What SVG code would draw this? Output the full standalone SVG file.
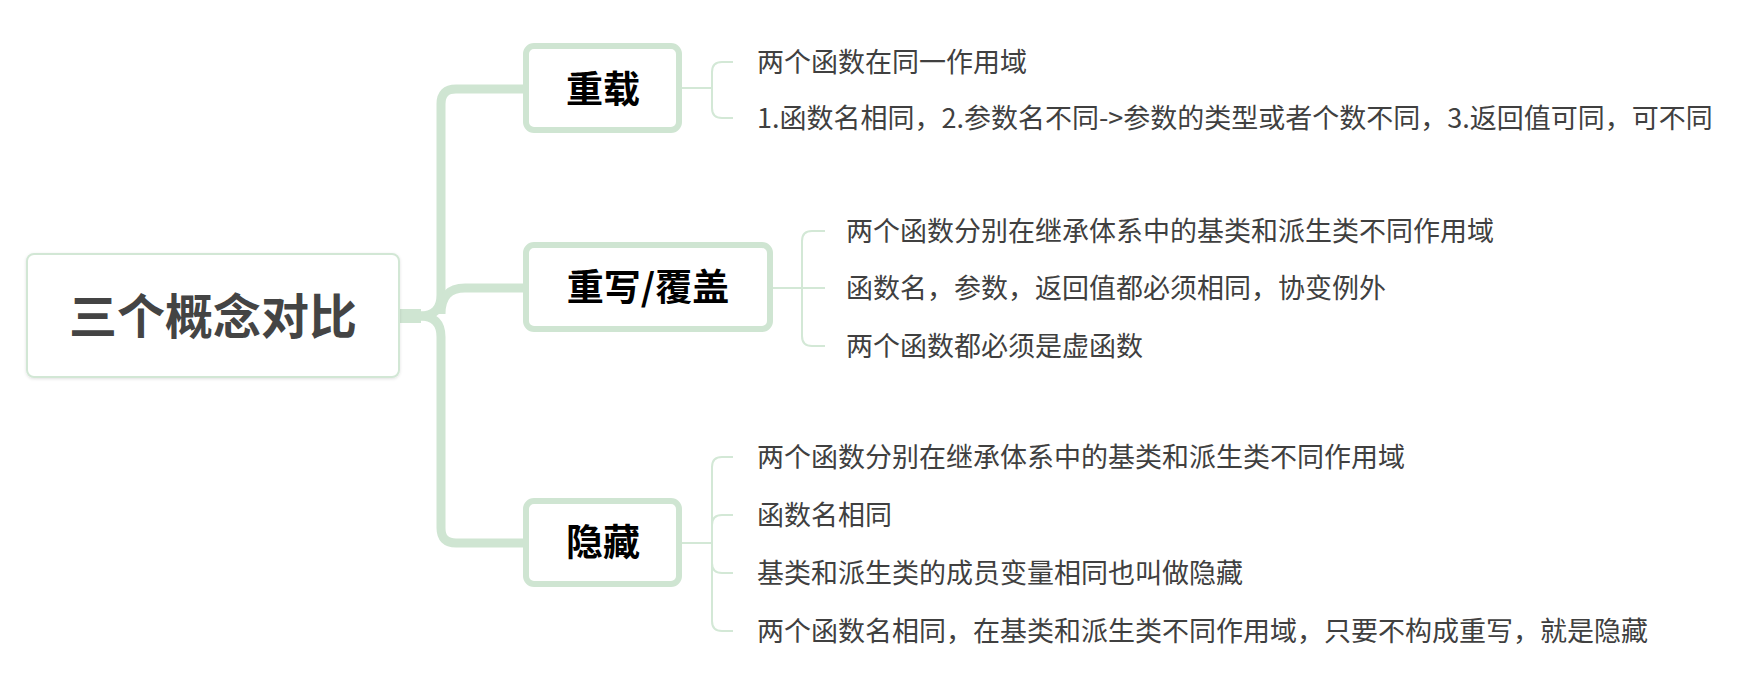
<svg xmlns="http://www.w3.org/2000/svg" width="1737" height="679" viewBox="0 0 1737 679">
  <defs>
    <filter id="sh" x="-5%" y="-5%" width="110%" height="115%">
      <feDropShadow dx="0" dy="1" stdDeviation="1.5" flood-color="#000" flood-opacity="0.12"/>
    </filter>
    <style>
      .trunk { fill: none; stroke: #cfe5d2; stroke-linecap: butt; stroke-linejoin: round; }
      .twig { fill: none; stroke: #d3e8d6; stroke-width: 2; }
      .root { fill: #ffffff; stroke: #d2e7d5; stroke-width: 2; }
      .main { fill: #ffffff; stroke: #cfe5d2; stroke-width: 6; }
      .rootText { font-family: "Noto Sans CJK SC", "Noto Sans", sans-serif; font-weight: bold; font-size: 48px; fill: #444444; text-anchor: middle; }
      .mainText { font-family: "Noto Sans CJK SC", "Noto Sans", sans-serif; font-weight: bold; font-size: 37px; fill: #000000; text-anchor: middle; }
      .leaf { font-family: "Noto Sans CJK SC", "Noto Sans", sans-serif; font-size: 27px; fill: #404040; }
    </style>
  </defs>
  <rect width="1737" height="679" fill="#ffffff"/>

  <g id="connectors">
    <path class="trunk" stroke-width="9" d="M399 316 H420 Q441 316 441 295 V104 Q441 89 456 89 H526"/>
    <path class="trunk" stroke-width="9" d="M399 316 H420 Q441 316 441 337 V528 Q441 543 456 543 H526"/>
    <path class="trunk" stroke-width="9" d="M441 314 Q441 288 465 288 H526"/>
    <path class="trunk" stroke-width="14" d="M399 316 H421"/>

    <path class="twig" d="M682 88 H712 M712 88 V72 Q712 62 722 62 H733 M712 88 V108 Q712 118 722 118 H733"/>
    <path class="twig" d="M773 288 H825 M802 288 V241 Q802 231 812 231 H825 M802 288 V336 Q802 346 812 346 H825"/>
    <path class="twig" d="M682 543 H712 M712 543 V467 Q712 457 722 457 H733 M712 543 V525 Q712 515 722 515 H733 M712 543 V563 Q712 573 722 573 H733 M712 543 V621 Q712 631 722 631 H733"/>
  </g>

  <g id="root">
    <rect class="root" x="27" y="254" width="372" height="123" rx="7" filter="url(#sh)"/>
    <text class="rootText" x="213" y="334">三个概念对比</text>
  </g>

  <g id="overload">
    <rect class="main" x="526" y="46" width="153" height="84" rx="8"/>
    <text class="mainText" x="603" y="103">重载</text>
  </g>

  <g id="override">
    <rect class="main" x="526" y="245" width="244" height="84" rx="8"/>
    <text class="mainText" x="648" y="301">重写/覆盖</text>
  </g>

  <g id="hide">
    <rect class="main" x="526" y="501" width="153" height="83" rx="8"/>
    <text class="mainText" x="603" y="556">隐藏</text>
  </g>

  <g id="overload-leaves">
    <text class="leaf" x="757" y="72">两个函数在同一作用域</text>
    <text class="leaf" x="757" y="128">1.函数名相同，2.参数名不同-&gt;参数的类型或者个数不同，3.返回值可同，可不同</text>
  </g>

  <g id="override-leaves">
    <text class="leaf" x="846" y="241">两个函数分别在继承体系中的基类和派生类不同作用域</text>
    <text class="leaf" x="846" y="298">函数名，参数，返回值都必须相同，协变例外</text>
    <text class="leaf" x="846" y="356">两个函数都必须是虚函数</text>
  </g>

  <g id="hide-leaves">
    <text class="leaf" x="757" y="467">两个函数分别在继承体系中的基类和派生类不同作用域</text>
    <text class="leaf" x="757" y="525">函数名相同</text>
    <text class="leaf" x="757" y="583">基类和派生类的成员变量相同也叫做隐藏</text>
    <text class="leaf" x="757" y="641">两个函数名相同，在基类和派生类不同作用域，只要不构成重写，就是隐藏</text>
  </g>
</svg>
